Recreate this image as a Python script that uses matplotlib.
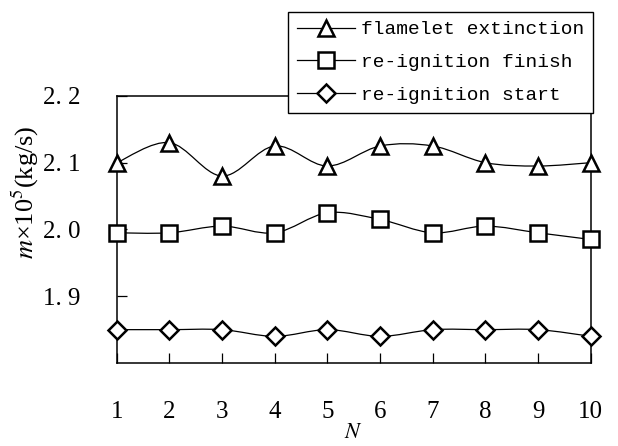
import numpy as np
import matplotlib
matplotlib.use('Agg')
import matplotlib.pyplot as plt
from matplotlib.path import Path
from matplotlib.patches import PathPatch
from matplotlib.lines import Line2D

plt.rcParams['mathtext.fontset'] = 'stix'

# ── DATA ───────────────────────────────────────────────────────────────────
N = [1, 2, 3, 4, 5, 6, 7, 8, 9, 10]
extinction = [2.10, 2.13, 2.08, 2.125, 2.095, 2.125, 2.125, 2.10, 2.095, 2.10]
reig_finish = [1.995, 1.995, 2.005, 1.995, 2.025, 2.015, 1.995, 2.005, 1.995, 1.985]
reig_start = [1.85, 1.85, 1.85, 1.84, 1.85, 1.84, 1.85, 1.85, 1.85, 1.84]

Y_TICKS = [1.9, 2.0, 2.1, 2.2]
Y_TICKLABELS = ['1. 9', '2. 0', '2. 1', '2. 2']

SERIF = ['Liberation Serif', 'DejaVu Serif']
MONO = ['Liberation Mono', 'DejaVu Sans Mono']


def smooth_path(x, y):
    # Catmull-Rom through the data points, written as cubic Beziers
    x = np.asarray(x, float)
    y = np.asarray(y, float)
    pts = np.column_stack([x, y])
    ext = np.vstack([pts[0], pts, pts[-1]])
    verts = [pts[0]]
    codes = [Path.MOVETO]
    for i in range(1, len(ext) - 2):
        p0, p1, p2, p3 = ext[i - 1], ext[i], ext[i + 1], ext[i + 2]
        c1 = p1 + (p2 - p0) / 6.0
        c2 = p2 - (p3 - p1) / 6.0
        verts += [c1, c2, p2]
        codes += [Path.CURVE4] * 3
    return Path(verts, codes)


fig = plt.figure(figsize=(6.18, 4.46), dpi=100)
ax = fig.add_axes([0.189, 0.186, 0.767, 0.599])

series = [
    (extinction, '^', 12, 'flamelet extinction'),
    (reig_finish, 's', 11, 're-ignition finish'),
    (reig_start, 'D', 9, 're-ignition start'),
]
handles = []
for vals, mk, ms, lab in series:
    ax.add_patch(PathPatch(smooth_path(N, vals), fill=False,
                           edgecolor='black', linewidth=0.9, zorder=2))
    ax.plot(N, vals, linestyle='none', marker=mk, markersize=ms,
            markerfacecolor='white', markeredgecolor='black',
            markeredgewidth=1.8, zorder=3, clip_on=False)
    handles.append(Line2D([], [], color='black', linewidth=0.9, marker=mk,
                          markersize=ms, markerfacecolor='white',
                          markeredgecolor='black', markeredgewidth=1.8,
                          label=lab))

ax.set_xlim(1, 10)
ax.set_ylim(1.8, 2.2)
ax.set_xticks(N)
ax.set_xticklabels([str(n) for n in N], family=SERIF, fontsize=18)
ax.set_yticks(Y_TICKS)
ax.set_yticklabels(Y_TICKLABELS, family=SERIF, fontsize=18)
ax.tick_params(direction='in', length=7, width=0.9)
ax.tick_params(axis='x', pad=27)
ax.tick_params(axis='y', pad=26)
for s in ax.spines.values():
    s.set_linewidth(1.1)

ax.set_xlabel('$N$', fontsize=16)
ax.xaxis.set_label_coords(0.5, -0.222)
ax.set_ylabel(r'$m$×10$^5$(kg/s)', family=SERIF, fontsize=19)
ax.yaxis.set_label_coords(-0.16, 0.64)

leg = fig.legend(handles=handles, loc='upper right',
                 bbox_to_anchor=(593 / 618, 1 - 12 / 446),
                 prop={'family': MONO, 'size': 14},
                 frameon=True, fancybox=False, framealpha=1,
                 edgecolor='black', handlelength=3.0, handletextpad=0.3,
                 labelspacing=0.78, borderpad=0.45, borderaxespad=0)
leg.get_frame().set_linewidth(1.0)

fig.savefig('out.png', dpi=100)
